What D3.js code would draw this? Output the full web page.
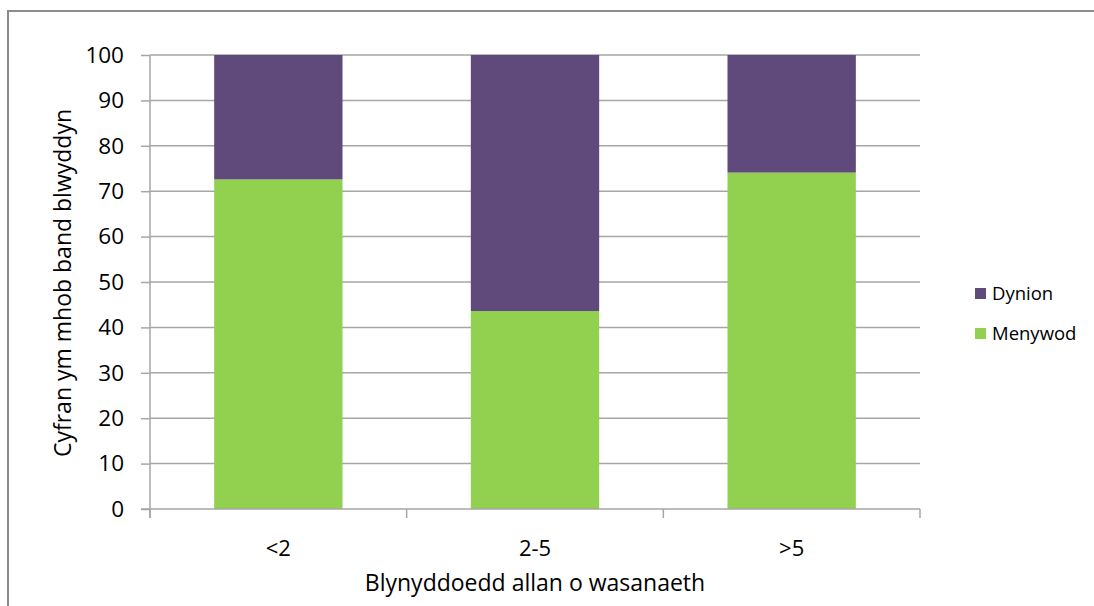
<!DOCTYPE html>
<html>
<head>
<meta charset="utf-8">
<script src="https://cdn.jsdelivr.net/npm/d3@7"></script>
<style>
  html, body { margin: 0; padding: 0; background: #fff; }
  svg { display: block; }
  text { font-family: "Open Sans", "Liberation Sans", sans-serif; fill: #000; }
</style>
</head>
<body>
<script>
// Share of each service band by sex (percent)
const categories = ["<2", "2-5", ">5"];
const menywod = [72.6, 43.6, 74.1];
const dynion = [27.4, 56.4, 25.9];
const seriesNames = ["Menywod", "Dynion"];
const seriesColors = ["#92d050", "#604a7b"];
const yTicks = [0, 10, 20, 30, 40, 50, 60, 70, 80, 90, 100];
const xTitle = "Blynyddoedd allan o wasanaeth";
const yTitle = "Cyfran ym mhob band blwyddyn";

const W = 1094, H = 606;
const plot = { left: 150, right: 920, top: 55, bottom: 509 };

const svg = d3.select("body").append("svg").attr("width", W).attr("height", H);

// outer chart frame
svg.append("rect")
  .attr("x", 8).attr("y", 11).attr("width", 1200).attr("height", 700)
  .attr("fill", "#fff").attr("stroke", "#8c8c8c").attr("stroke-width", 2);

const x = d3.scaleBand().domain(categories)
  .range([plot.left, plot.right]).paddingInner(0.5).paddingOuter(0.25);
const y = d3.scaleLinear().domain([0, 100]).range([plot.bottom, plot.top]);

// horizontal gridlines
svg.append("g").selectAll("line").data(yTicks.filter(d => d > 0)).join("line")
  .attr("x1", plot.left).attr("x2", plot.right)
  .attr("y1", d => y(d)).attr("y2", d => y(d))
  .attr("stroke", "#a6a6a6").attr("stroke-width", 1.5);

// stacked bars
const rows = categories.map((c, i) => ({ cat: c, Menywod: menywod[i], Dynion: dynion[i] }));
const stack = d3.stack().keys(seriesNames)(rows);
svg.append("g").selectAll("g").data(stack).join("g")
  .attr("fill", (d, i) => seriesColors[i])
  .selectAll("rect").data(d => d).join("rect")
  .attr("x", d => x(d.data.cat))
  .attr("width", x.bandwidth())
  .attr("y", d => y(d[1]))
  .attr("height", d => y(d[0]) - y(d[1]));

// y axis
const yAxis = svg.append("g").attr("transform", `translate(${plot.left},0)`)
  .call(d3.axisLeft(y).tickValues(yTicks).tickSize(9).tickPadding(17));
yAxis.select(".domain").attr("stroke", "#a6a6a6").attr("stroke-width", 1.5)
  .attr("d", `M0,${plot.top}V${plot.bottom + 9}`);
yAxis.selectAll(".tick line").attr("stroke", "#a6a6a6").attr("stroke-width", 1.5);
yAxis.selectAll(".tick text").attr("font-size", 22.5).attr("fill", "#000")
  .attr("font-family", "'Open Sans', sans-serif");

// x axis with ticks at category boundaries
const xg = svg.append("g").attr("transform", `translate(0,${plot.bottom})`);
xg.append("line").attr("x1", plot.left - 9).attr("x2", plot.right)
  .attr("stroke", "#a6a6a6").attr("stroke-width", 1.5);
const bounds = d3.range(categories.length + 1).map(i => plot.left + i * (plot.right - plot.left) / categories.length);
xg.selectAll(".xt").data(bounds).join("line").attr("class", "xt")
  .attr("x1", d => d).attr("x2", d => d).attr("y1", 0).attr("y2", 9)
  .attr("stroke", "#a6a6a6").attr("stroke-width", 1.5);
xg.selectAll(".xl").data(categories).join("text").attr("class", "xl")
  .attr("x", d => x(d) + x.bandwidth() / 2).attr("y", 47)
  .attr("text-anchor", "middle").attr("font-size", 22).text(d => d);

// axis titles
svg.append("text").attr("x", 535).attr("y", 591).attr("text-anchor", "middle")
  .attr("font-size", 23).text(xTitle);
svg.append("text").attr("transform", "translate(71,283) rotate(-90)")
  .attr("text-anchor", "middle").attr("font-size", 23).text(yTitle);

// legend (top entry is the upper stack segment)
const legendItems = [
  { name: "Dynion", color: seriesColors[1], y: 293 },
  { name: "Menywod", color: seriesColors[0], y: 333 }
];
const lg = svg.append("g").selectAll("g").data(legendItems).join("g")
  .attr("transform", d => `translate(975,${d.y})`);
lg.append("rect").attr("x", 0).attr("y", -5).attr("width", 11).attr("height", 11)
  .attr("fill", d => d.color);
lg.append("text").attr("x", 17).attr("y", 6.5).attr("font-size", 18.5)
  .attr("fill", "#222").text(d => d.name);
</script>
</body>
</html>
